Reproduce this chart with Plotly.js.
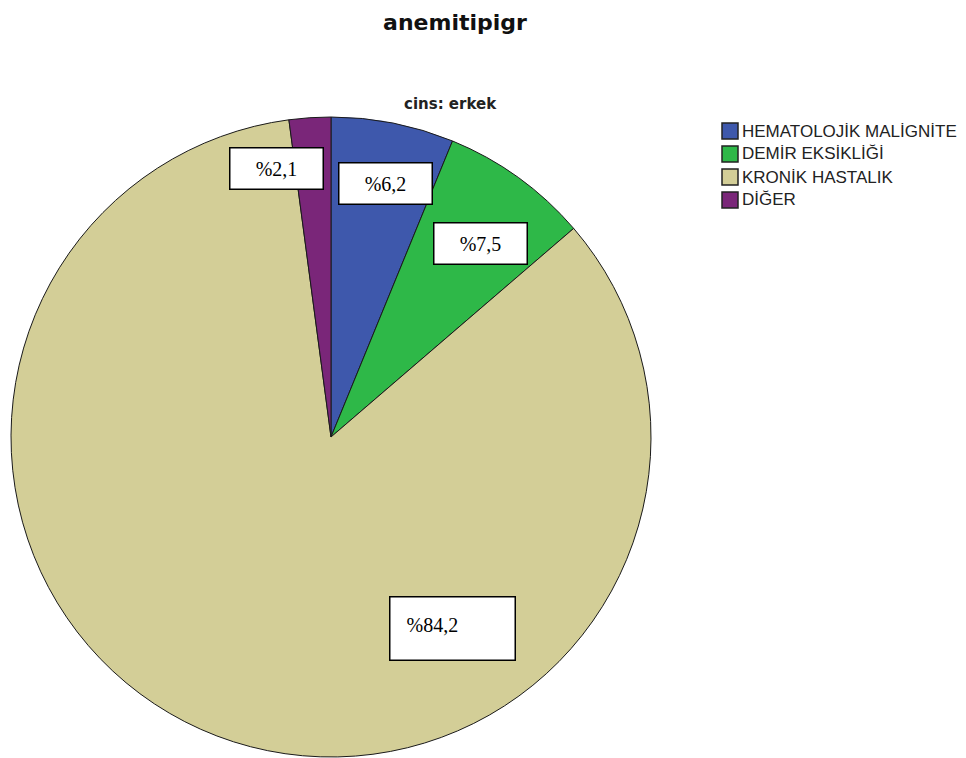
<!DOCTYPE html>
<html>
<head>
<meta charset="utf-8">
<script src="https://cdn.plot.ly/plotly-3.0.1.min.js"></script>
<style>
  html, body { margin: 0; padding: 0; background: #ffffff; }
  #chart { width: 966px; height: 758px; }
</style>
</head>
<body>
<div id="chart"></div>
<script>
// Anemia type distribution, male patients (cins: erkek)
const categories = ['HEMATOLOJİK MALİGNİTE', 'DEMİR EKSİKLİĞİ', 'KRONİK HASTALIK', 'DİĞER'];
const percents = [6.2, 7.5, 84.2, 2.1];
const sliceColors = ['#3E58AC', '#2EB848', '#D3CE97', '#7A2679'];

const W = 966, H = 758;
const px = x => x / W;          // pixel -> paper x
const py = y => 1 - y / H;      // pixel -> paper y

// Label box anchor points (pixels), one per category
const labelX = [385, 480, 452, 276];
const labelY = [183, 243, 628, 168];

const fmt = v => '%' + v.toFixed(1).replace('.', ',');

const trace = {
  type: 'pie',
  labels: categories,
  values: percents,
  sort: false,
  direction: 'clockwise',
  rotation: 0,
  textinfo: 'none',
  hoverinfo: 'label+percent',
  showlegend: false,
  marker: { colors: sliceColors, line: { color: '#1a1a1a', width: 1 } },
  domain: { x: [px(11), px(651)], y: [py(757), py(117)] }
};

const annotations = categories.map((c, i) => {
  const big = i === 2;
  return {
    xref: 'paper', yref: 'paper',
    x: px(labelX[i]), y: py(labelY[i]),
    xanchor: 'center', yanchor: 'middle',
    text: fmt(percents[i]),
    showarrow: false,
    font: { family: 'Liberation Serif, Times New Roman, serif', size: 20, color: '#000000' },
    bgcolor: '#ffffff',
    bordercolor: '#000000',
    borderwidth: 1.5,
    borderpad: big ? 16 : 0,
    width: 92,
    height: big ? 30 : 40,
    align: big ? 'left' : 'center',
    valign: big ? 'top' : 'middle'
  };
});

// Legend: swatches drawn as shapes, names as annotations
const legendTop = 131, legendStep = 23, swatch = 16, legendLeft = 722;
const shapes = [];
categories.forEach((c, i) => {
  const cy = legendTop + i * legendStep;
  shapes.push({
    type: 'rect', xref: 'paper', yref: 'paper',
    x0: px(legendLeft), x1: px(legendLeft + swatch),
    y0: py(cy - swatch / 2), y1: py(cy + swatch / 2),
    fillcolor: sliceColors[i],
    line: { color: '#222222', width: 1.5 }
  });
  annotations.push({
    xref: 'paper', yref: 'paper',
    x: px(legendLeft + swatch + 2), y: py(cy),
    xanchor: 'left', yanchor: 'middle',
    text: c,
    showarrow: false,
    font: { family: 'Liberation Sans, Arial, sans-serif', size: 17, color: '#222222' }
  });
});

annotations.push({
  xref: 'paper', yref: 'paper',
  x: px(450), y: py(104),
  xanchor: 'center', yanchor: 'middle',
  text: '<b>cins: erkek</b>',
  showarrow: false,
  font: { family: 'DejaVu Sans, Verdana, sans-serif', size: 15, color: '#222222' }
});

const layout = {
  width: W,
  height: H,
  margin: { l: 0, r: 0, t: 0, b: 0 },
  paper_bgcolor: '#ffffff',
  title: {
    text: '<b>anemitipigr</b>',
    x: px(455), xanchor: 'center',
    y: py(22), yanchor: 'middle',
    font: { family: 'DejaVu Sans, Verdana, sans-serif', size: 22, color: '#111111' }
  },
  showlegend: false,
  annotations: annotations,
  shapes: shapes
};

Plotly.newPlot('chart', [trace], layout, { displayModeBar: false, staticPlot: true });
</script>
</body>
</html>
